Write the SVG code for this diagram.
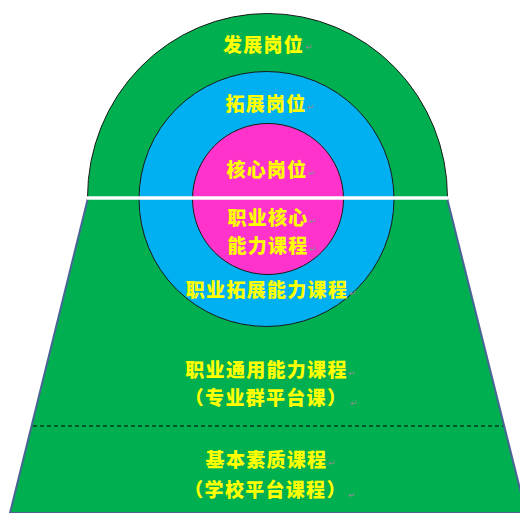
<svg xmlns="http://www.w3.org/2000/svg" width="520" height="513" viewBox="0 0 520 513">
<style>
.t{font-family:"Noto Sans CJK SC","Noto Sans CJK JP",sans-serif;font-weight:900;font-size:19px;fill:#ffff00;text-anchor:middle;letter-spacing:1.3px}
.m{font-family:"DejaVu Sans",sans-serif;font-size:9px;fill:#8c8c8c}
.ring{stroke:#1a1a1a;stroke-width:1}
</style>
<rect width="520" height="513" fill="#ffffff"/>
<g id="dev-ring">
<path class="ring" d="M87.5,197.5 A180,184 0 0 1 447.5,197.5 Z" fill="#00b050"/>
</g>
<g id="base">
<path d="M88,198 L447,198 L526,513 L10,513 Z" fill="#00b050" stroke="#4a6496" stroke-width="2"/>
</g>
<g id="ext-ring">
<circle class="ring" cx="266.5" cy="199" r="127.5" fill="#00b0f0"/>
</g>
<g id="core">
<circle class="ring" cx="268" cy="199" r="75.5" fill="#ff33cc"/>
</g>
<g id="connectors">
<line x1="87" y1="198" x2="448" y2="198" stroke="#ffffff" stroke-width="3.5"/>
<line x1="33" y1="426" x2="503" y2="426" stroke="#000000" stroke-width="1.2" stroke-dasharray="4,3"/>
</g>
<g id="labels">
<text class="t" x="263.5" y="51.5">发展岗位</text>
<text class="m" x="305" y="50">↵</text>
<text class="t" x="266" y="110.5">拓展岗位</text>
<text class="m" x="307" y="110">↵</text>
<text class="t" x="267" y="176.5">核心岗位</text>
<text class="m" x="308" y="176">↵</text>
<text class="t" x="268" y="224.5">职业核心</text>
<text class="m" x="309" y="224">↵</text>
<text class="t" x="268" y="252.5">能力课程</text>
<text class="m" x="309" y="252">↵</text>
<text class="t" x="267" y="296.5">职业拓展能力课程</text>
<text class="m" x="349" y="296">↵</text>
<text class="t" x="266.5" y="376.5">职业通用能力课程</text>
<text class="m" x="348" y="376">↵</text>
<text class="t" x="266" y="404.5">（专业群平台课）</text>
<text class="m" x="350" y="406">↵</text>
<text class="t" x="266.5" y="466.5">基本素质课程</text>
<text class="m" x="328" y="466">↵</text>
<text class="t" x="265.5" y="496.5">（学校平台课程）</text>
<text class="m" x="348" y="498">↵</text>
</g>
</svg>
